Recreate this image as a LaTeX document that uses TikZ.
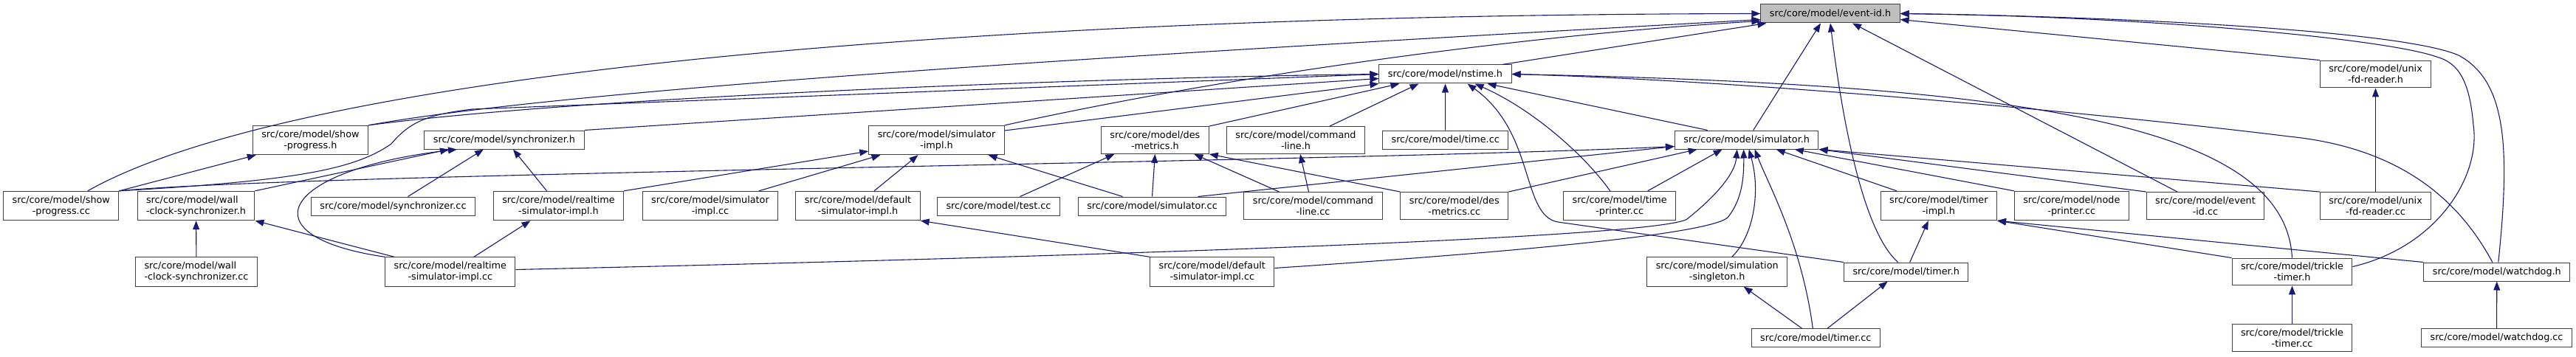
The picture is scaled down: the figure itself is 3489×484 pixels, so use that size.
\documentclass[tikz,border=0pt]{standalone}
\usepackage{fontspec}
\setmainfont{DejaVu Sans}
\usetikzlibrary{arrows.meta}
\definecolor{edgeblue}{HTML}{191970}
\definecolor{boxline}{HTML}{404040}
\definecolor{focusgray}{HTML}{BFBFBF}
\tikzset{>={Triangle[length=12pt,width=9pt]}}

\begin{document}
\begin{tikzpicture}[x=1pt, y=-1pt]
\tikzset{file/.style={draw=boxline, line width=1pt, fill=white, align=center, inner xsep=12pt, inner ysep=6pt, minimum height=25pt, font=\fontsize{12.8}{15}\selectfont}}
\tikzset{inc/.style={->, color=edgeblue, line width=1.1pt}}
    \fill[white] (0,0) rectangle (3489,484);
    \useasboundingbox (0,0) rectangle (3489,484);

    % headers on top
    \node[file, fill=focusgray] (E) at (2479,18.5) {src/core/model/event-id.h};
    \node[file] (N) at (1957.5,100.5) {src/core/model/nstime.h};
    \node[file] (ufrh) at (3217.5,100.5) {src/core/model/unix\\-fd-reader.h};

    \node[file] (sph) at (420.4,190) {src/core/model/show\\-progress.h};
    \node[file] (Sy) at (683,189.5) {src/core/model/synchronizer.h};
    \node[file] (SIh) at (1268.5,190) {src/core/model/simulator\\-impl.h};
    \node[file] (DMh) at (1564.4,190) {src/core/model/des\\-metrics.h};
    \node[file] (clh) at (1755,190) {src/core/model/command\\-line.h};
    \node[file] (timecc) at (1957.7,189.5) {src/core/model/time.cc};
    \node[file] (S) at (2365.7,189.5) {src/core/model/simulator.h};
% % % % % % % % % % % % % % % % % % %
    \node[file] (spcc) at (82.8,279) {src/core/model/show\\-progress.cc};
    \node[file, align=left] (WCSh) at (265.5,279) {src/core/model/wall\\-clock-synchronizer.h};
    \node[file] (synccc) at (532.5,279.5) {src/core/model/synchronizer.cc};
    \node[file] (RSIh) at (756.5,279) {src/core/model/realtime\\-simulator-impl.h};
    \node[file] (SIcc) at (962,279) {src/core/model/simulator\\-impl.cc};
    \node[file] (DSIh) at (1162,279) {src/core/model/default\\-simulator-impl.h};
    \node[file] (testcc) at (1352.5,279.5) {src/core/model/test.cc};
    \node[file] (simcc) at (1560.5,279.5) {src/core/model/simulator.cc};
    \node[file] (clcc) at (1778.5,279) {src/core/model/command\\-line.cc};
    \node[file] (dmcc) at (1969.8,279) {src/core/model/des\\-metrics.cc};
    \node[file] (tpcc) at (2193.7,279) {src/core/model/time\\-printer.cc};
    \node[file] (tih) at (2625.8,279) {src/core/model/timer\\-impl.h};
    \node[file] (npcc) at (2805.8,279) {src/core/model/node\\-printer.cc};
    \node[file] (eidcc) at (2987,279) {src/core/model/event\\-id.cc};
    \node[file] (ufrcc) at (3217.5,279) {src/core/model/unix\\-fd-reader.cc};

    \node[file, align=left] (WCScc) at (266,368.5) {src/core/model/wall\\-clock-synchronizer.cc};
    \node[file] (RSIcc) at (609.8,368.5) {src/core/model/realtime\\-simulator-impl.cc};
    \node[file] (DSIcc) at (1641.8,368.5) {src/core/model/default\\-simulator-impl.cc};
    \node[file] (ssh) at (2325.7,368.5) {src/core/model/simulation\\-singleton.h};
    \node[file] (timerh) at (2581.7,368.5) {src/core/model/timer.h};
    \node[file] (tth) at (3104.5,368.5) {src/core/model/trickle\\-timer.h};
    \node[file] (wdh) at (3381.8,368.5) {src/core/model/watchdog.h};

    \node[file] (timercc) at (2459.3,458) {src/core/model/timer.cc};
    \node[file] (ttcc) at (3104.5,458) {src/core/model/trickle\\-timer.cc};
    \node[file] (wdcc) at (3381.5,458) {src/core/model/watchdog.cc};
% % % % % % % % % % % % % % % % % % %
    % event-id.h
    \draw[inc] ([xshift=36pt]spcc.north) .. controls (400,100) and (1300,20) .. (E.west);
    \draw[inc] (sph.north east) .. controls (800,115) and (1700,65) .. ([yshift=-8pt]E.west);
    \draw[inc] (SIh.north east) .. controls (1700,95) and (2100,45) .. ([yshift=-10pt]E.west);
    \draw[inc] ([xshift=77pt]N.north) -- ([xshift=8pt]E.south west);
    \draw[inc] ([xshift=9pt]S.north) -- ([xshift=-13pt]E.south);
    \draw[inc] ([xshift=-11pt]timerh.north) .. controls (2530,320) and (2500,200) .. (E.south);
    \draw[inc] ([xshift=-38pt]eidcc.north) -- ([xshift=30pt]E.south);
    \draw[inc] (ufrh.north west) -- ([yshift=-8pt]E.east);
    \draw[inc] ([yshift=7pt]tth.east) .. controls (3300,335) and (3360,240) .. (3350,170) .. controls (3345,110) and (3330,85) .. (3300,77) .. controls (3230,52) and (2900,22) .. (E.east);
    \draw[inc] ([xshift=2pt]wdh.north) .. controls (3400,200) and (3395,110) .. (3330,75) .. controls (3250,40) and (2850,22) .. (E.east);

    % nstime.h
    \draw[inc] (sph.north east) .. controls (800,130) and (1500,105) .. (N.west);
    \draw[inc] (spcc.north east) .. controls (400,245) and (480,230) .. (530,195) .. controls (555,165) and (580,155) .. (640,148) -- (N.west);
    \draw[inc] (Sy.north east) -- ([yshift=-6pt]N.west);
    \draw[inc] ([yshift=13pt]SIh.east) -- (N.south west);
    \draw[inc] (DMh.north east) -- ([xshift=-62pt]N.south);
    \draw[inc] ([xshift=46pt]clh.north) -- ([xshift=-36pt]N.south);
    \draw[inc] (timecc) -- (N);
    \draw[inc] ([xshift=-13pt]tpcc.north) .. controls (2150,215) and (2080,150) .. ([xshift=40pt]N.south);
    \draw[inc] (timerh.north west) -- (2110,301) .. controls (2060,292) and (2080,180) .. ([xshift=30pt]N.south);
    \draw[inc] ([xshift=-53pt]S.north) -- ([xshift=57pt]N.south);
    \draw[inc] (tth.north) .. controls (3095,170) and (2750,115) .. (N.east);
    \draw[inc] ([xshift=-6pt]wdh.north) .. controls (3330,270) and (3250,200) .. (3100,185) .. controls (2900,160) and (2400,110) .. (N.east);

    % simulator.h
    \draw[inc] (spcc.north east) .. controls (400,235) and (1800,220) .. ([yshift=-9pt]S.west);
    \draw[inc] ([xshift=62pt]simcc.north) -- ([yshift=-9pt]S.west);
    \draw[inc] (dmcc.north east) -- ([xshift=-67pt]S.south);
    \draw[inc] ([xshift=38pt]tpcc.north) -- ([xshift=-33pt]S.south);
    \draw[inc] ([yshift=3pt]RSIcc.east) .. controls (1600,345) and (2250,320) .. (2285,297) .. controls (2325,265) and (2350,235) .. ([xshift=-13pt]S.south);
    \draw[inc] ([yshift=5pt]DSIcc.east) .. controls (2000,345) and (2310,320) .. (2340,295) .. controls (2360,270) and (2362,240) .. ([xshift=-4pt]S.south);
    \draw[inc] ([xshift=20pt]ssh.north) .. controls (2375,320) and (2385,260) .. ([xshift=3pt]S.south);
    \draw[inc] ([xshift=-4pt]timercc.north) .. controls (2440,330) and (2395,250) .. ([xshift=11pt]S.south);
    \draw[inc] ([xshift=-57pt]tih.north) -- ([xshift=40pt]S.south);
    \draw[inc] (npcc.north west) -- ([xshift=65pt]S.south);
    \draw[inc] (eidcc.north west) -- (S.south east);
    \draw[inc] (ufrcc.north west) -- (S.south east);

    % synchronizer.h
    \draw[inc] (WCSh.north east) -- ([xshift=-75pt]Sy.south);
    \draw[inc] (RSIcc.north west) .. controls (330,320) and (380,230) .. ([xshift=-64pt]Sy.south);
    \draw[inc] ([xshift=20pt]synccc.north) -- ([xshift=-28pt]Sy.south);
    \draw[inc] ([xshift=-16pt]RSIh.north) -- ([xshift=12pt]Sy.south);

    % the rest
    \draw[inc] (spcc.north east) -- ([xshift=5pt]sph.south west);
    \draw[inc] (WCScc) -- (WCSh);
    \draw[inc] ([xshift=13pt]RSIcc.north west) -- (WCSh.south east);
    \draw[inc] ([xshift=32pt]RSIcc.north) -- ([xshift=-38pt]RSIh.south);
    \draw[inc] (RSIh.north east) -- ([yshift=-15pt]SIh.west);
    \draw[inc] ([xshift=66pt]SIcc.north) -- ([xshift=-76pt]SIh.south);
    \draw[inc] ([xshift=22pt]DSIh.north) -- ([xshift=-25pt]SIh.south);
    \draw[inc] ([xshift=-40pt]simcc.north) -- ([xshift=70pt]SIh.south);
    \draw[inc] (DSIcc.north west) -- (DSIh.south east);
    \draw[inc] ([xshift=29pt]testcc.north) -- ([xshift=-55pt]DMh.south);
    \draw[inc] (simcc.north) -- (DMh.south);
    \draw[inc] ([xshift=-46pt]clcc.north) -- ([xshift=53pt]DMh.south);
    \draw[inc] (dmcc.north west) -- (DMh.south east);
    \draw[inc] ([xshift=-6pt]clcc.north) -- ([xshift=6pt]clh.south);
    \draw[inc] ([xshift=5pt]timerh.north) -- ([xshift=-14pt]tih.south);
    \draw[inc] (tth.north west) -- (tih.south east);
    \draw[inc] (wdh.north west) -- (tih.south east);
    \draw[inc] ([xshift=16pt]timercc.north) -- ([xshift=-25pt]timerh.south);
    \draw[inc] ([xshift=-19pt]timercc.north) -- ([xshift=36pt]ssh.south);
    \draw[inc] (ufrcc) -- (ufrh);
    \draw[inc] (ttcc) -- (tth);
    \draw[inc] (wdcc) -- (wdh);
\end{tikzpicture}
\end{document}
